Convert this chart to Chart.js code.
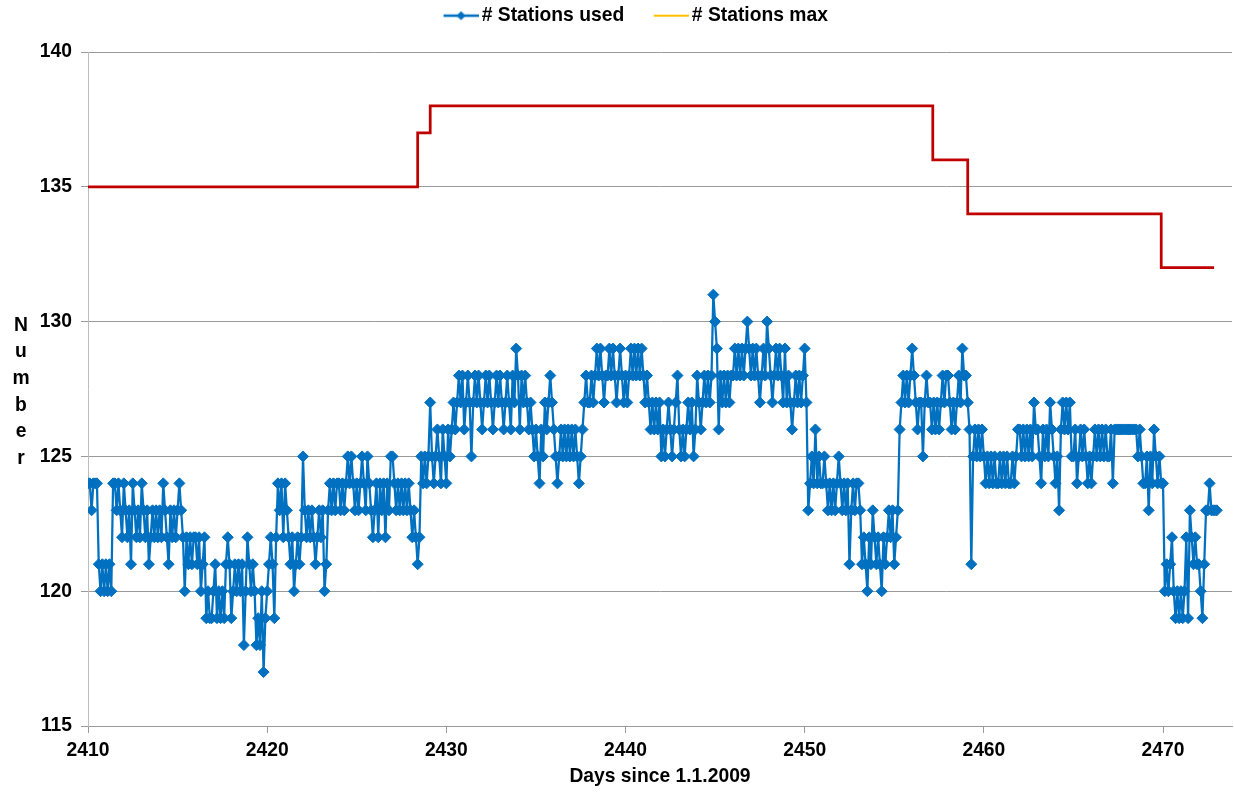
<!DOCTYPE html>
<html>
<head>
<meta charset="utf-8">
<script src="https://cdn.jsdelivr.net/npm/chart.js@4.4.1/dist/chart.umd.min.js"></script>
<style>
html,body{margin:0;padding:0;background:#fff;}
#wrap{width:1234px;height:792px;position:relative;}
</style>
</head>
<body>
<div id="wrap"><canvas id="c" width="1234" height="792"></canvas></div>
<script>
// ---------------- data ----------------
const seriesNames = ['# Stations used', '# Stations max'];
const xAxisTitle = 'Days since 1.1.2009';
const yAxisTitle = 'Number';
const xTicks = [2410, 2420, 2430, 2440, 2450, 2460, 2470];
const yTicks = [115, 120, 125, 130, 135, 140];

// "# Stations used": sampled every 0.1 day starting at day 2410
const usedStartDay = 2410;
const usedStepDays = 0.1;
const stationsUsed = [
  124,124,123,124,124,124,121,120,121,120, // 2410
  121,120,121,120,124,124,123,124,123,122, // 2411
  124,123,122,123,121,124,123,122,123,122, // 2412
  124,123,122,123,121,122,123,122,123,122, // 2413
  123,122,124,123,122,121,123,122,123,122, // 2414
  123,124,123,122,120,122,121,122,121,122, // 2415
  122,121,122,120,121,122,119,120,119,119, // 2416
  120,121,119,120,119,120,119,121,122,121, // 2417
  119,120,121,120,121,120,121,118,120,122, // 2418
  121,120,121,120,118,119,118,120,117,119, // 2419
  120,121,122,121,119,122,124,123,124,122, // 2420
  124,123,122,121,122,120,121,122,121,122, // 2421
  125,123,122,123,122,123,122,121,122,123, // 2422
  122,123,120,121,123,124,123,124,123,124, // 2423
  124,123,124,123,124,125,124,125,124,123, // 2424
  124,123,124,125,124,123,125,124,123,122, // 2425
  123,124,122,124,123,124,122,124,123,125, // 2426
  125,124,123,124,123,124,123,124,123,124, // 2427
  123,122,123,122,121,122,125,124,125,124, // 2428
  125,127,125,124,125,126,125,124,126,125, // 2429
  124,126,125,126,127,126,127,128,127,128, // 2430
  126,127,128,127,125,127,128,127,128,127, // 2431
  126,127,128,127,128,127,126,127,128,127, // 2432
  128,127,126,127,128,127,126,128,127,129, // 2433
  128,126,128,127,128,127,126,127,126,125, // 2434
  126,125,124,126,125,127,126,127,128,127, // 2435
  126,125,124,125,126,125,126,125,126,125, // 2436
  126,125,126,125,124,125,126,127,128,127, // 2437
  127,128,127,128,129,128,129,128,127,128, // 2438
  128,129,128,129,128,127,128,129,128,127, // 2439
  128,127,128,129,128,129,128,129,128,129, // 2440
  128,127,128,127,126,127,126,127,126,127, // 2441
  125,126,125,126,127,126,125,126,127,128, // 2442
  126,125,126,125,126,127,126,127,125,126, // 2443
  128,127,126,127,128,127,128,127,128,131, // 2444
  130,129,126,128,127,128,127,128,127,128, // 2445
  128,129,128,129,128,129,128,129,130,129, // 2446
  128,129,128,129,128,127,128,129,128,130, // 2447
  129,128,127,128,129,128,129,128,127,129, // 2448
  127,128,127,126,127,128,127,128,127,128, // 2449
  129,127,123,124,125,124,126,124,125,124, // 2450
  124,125,124,123,124,123,124,123,124,125, // 2451
  124,123,124,123,124,121,123,124,123,124, // 2452
  124,123,121,122,121,120,122,121,123,122, // 2453
  121,122,121,120,122,121,122,123,122,123, // 2454
  121,122,123,126,127,128,127,128,127,128, // 2455
  129,128,127,126,127,127,125,127,128,127, // 2456
  127,126,127,126,127,126,127,128,127,128, // 2457
  128,127,126,127,126,127,128,127,129,128, // 2458
  128,127,126,121,125,126,125,126,125,126, // 2459
  125,124,125,124,125,124,125,124,124,125, // 2460
  124,125,124,125,124,124,125,124,125,126, // 2461
  126,125,126,125,126,125,126,125,127,126, // 2462
  126,125,124,126,125,126,125,127,126,125, // 2463
  124,125,123,126,127,126,127,126,127,125, // 2464
  125,126,124,125,126,125,126,125,124,125, // 2465
  124,125,126,125,126,125,126,125,126,125, // 2466
  125,126,124,126,126,126,126,126,126,126, // 2467
  126,126,126,126,126,126,125,126,125,124, // 2468
  124,125,123,125,124,126,125,124,125,124, // 2469
  124,120,121,120,121,122,120,119,120,119, // 2470
  120,119,120,122,119,123,122,121,122,121, // 2471
  121,120,119,121,123,123,124,123,123,123, // 2472
  123                                      // 2473
];

// "# Stations max": step changes
const maxDays     = [2410, 2428.4, 2429.1, 2457.15, 2459.1, 2469.9, 2472.85];
const stationsMax = [135,  137,    138,    136,     134,    132,    132];

// ---------------- chart ----------------
const FONT = '"Liberation Sans", Arial, Helvetica, sans-serif';
const FSIZE = 19.3;
const fontSpec = {family: FONT, size: FSIZE, weight: 'bold'};
Chart.defaults.font.family = FONT;
Chart.defaults.color = '#000';

const BLUE = '#0070C0';
const RED = '#C00000';
const GOLD = '#FFC000';

const usedPoints = stationsUsed.map((v, i) => ({x: usedStartDay + i * usedStepDays, y: v}));
const maxPoints = stationsMax.map((v, i) => ({x: maxDays[i], y: v}));

function legendIcon(color, withMarker, lw) {
  const c = document.createElement('canvas');
  c.width = 65; c.height = 14;
  const g = c.getContext('2d');
  g.strokeStyle = color; g.lineWidth = lw;
  g.beginPath(); g.moveTo(30, 7); g.lineTo(65, 7); g.stroke();
  if (withMarker) {
    g.fillStyle = color;
    g.beginPath();
    g.moveTo(47.5, 2.5); g.lineTo(52, 7); g.lineTo(47.5, 11.5); g.lineTo(43, 7);
    g.closePath(); g.fill();
  }
  return c;
}
const legendIcons = [legendIcon(BLUE, true, 2.5), legendIcon(GOLD, false, 2)];

const legendSpacer = {
  id: 'legendSpacer',
  beforeInit(chart) {
    const lg = chart.legend;
    if (!lg) return;
    const f = lg.fit;
    lg.fit = function () { f.call(this); this.height = 52; };
  }
};

const verticalTitle = {
  id: 'verticalTitle',
  afterDraw(chart) {
    const ctx = chart.ctx, a = chart.chartArea;
    const letters = yAxisTitle.split('');
    ctx.save();
    ctx.font = 'bold ' + FSIZE + 'px ' + FONT;
    ctx.fillStyle = '#000';
    ctx.textAlign = 'center';
    ctx.textBaseline = 'middle';
    const cy = (a.top + a.bottom) / 2 + 3;
    const gap = 26.6;
    letters.forEach((ch, i) => ctx.fillText(ch, 21, cy + (i - (letters.length - 1) / 2) * gap));
    ctx.restore();
  }
};

new Chart(document.getElementById('c'), {
  type: 'line',
  data: {
    datasets: [
      {
        label: seriesNames[0],
        data: usedPoints,
        borderColor: BLUE,
        backgroundColor: BLUE,
        borderWidth: 2.25,
        pointStyle: 'rectRot',
        pointRadius: 5.5,
        pointBorderWidth: 1,
        pointBackgroundColor: BLUE,
        pointBorderColor: BLUE,
        tension: 0
      },
      {
        label: seriesNames[1],
        data: maxPoints,
        borderColor: RED,
        backgroundColor: RED,
        borderWidth: 2.75,
        pointRadius: 0,
        stepped: true
      }
    ]
  },
  options: {
    responsive: false,
    devicePixelRatio: 1,
    animation: false,
    events: [],
    layout: {autoPadding: false, padding: {top: 0, right: 2, bottom: 0, left: 16}},
    plugins: {
      tooltip: {enabled: false},
      legend: {
        display: true,
        position: 'top',
        align: 'center',
        labels: {
          usePointStyle: true,
          pointStyleWidth: 52,
          padding: 6,
          font: fontSpec,
          color: '#000',
          generateLabels(chart) {
            const items = Chart.defaults.plugins.legend.labels.generateLabels(chart);
            items.sort((a, b) => a.datasetIndex - b.datasetIndex);
            items.forEach(it => {
              it.pointStyle = legendIcons[it.datasetIndex];
              it.fontColor = '#000';
            });
            return items;
          }
        }
      }
    },
    scales: {
      x: {
        type: 'linear',
        min: 2410,
        max: 2473.85,
        afterBuildTicks: s => { s.ticks = xTicks.map(v => ({value: v})); },
        afterFit: s => { s.height = 66; s.paddingLeft = 0; s.paddingRight = 0; },
        grid: {display: true, drawOnChartArea: false, drawTicks: true, tickLength: 7, color: '#9A9A9A', lineWidth: 1},
        border: {display: true, color: '#9A9A9A', width: 1},
        ticks: {font: fontSpec, color: '#000', padding: 6, maxRotation: 0, autoSkip: false, callback: v => String(v)},
        title: {display: true, text: xAxisTitle, font: fontSpec, color: '#000', padding: {top: 0, bottom: 4}}
      },
      y: {
        type: 'linear',
        min: 115,
        max: 140,
        afterBuildTicks: s => { s.ticks = yTicks.map(v => ({value: v})); },
        afterFit: s => { s.width = 72; s.paddingTop = 0; s.paddingBottom = 0; },
        grid: {color: '#9A9A9A', lineWidth: 1, drawTicks: true, tickLength: 7},
        border: {display: true, color: '#BDBDBD', width: 1},
        ticks: {font: fontSpec, color: '#000', padding: 9, callback: v => String(v)}
      }
    }
  },
  plugins: [legendSpacer, verticalTitle]
});
</script>
</body>
</html>
